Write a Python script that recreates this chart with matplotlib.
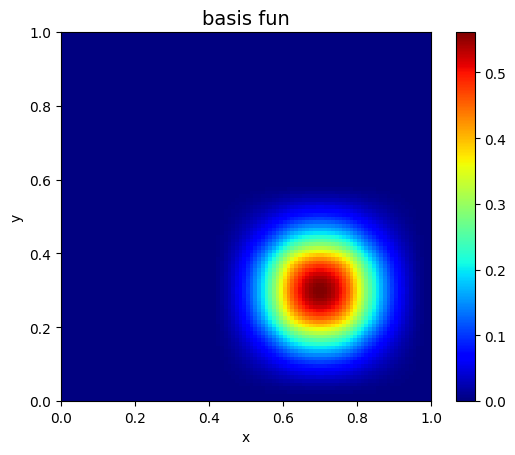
import numpy as np
import matplotlib
matplotlib.use("Agg")
import matplotlib.pyplot as plt

# grid of 100 x 100 cells on the unit square
n_cells = 100
edges = np.linspace(0, 1, n_cells + 1)

# 1D bump profile read across the blob (cell values, rising half; it is symmetric)
bump_half = [0.0003, 0.0028, 0.0078, 0.0153, 0.0253, 0.0378, 0.0528, 0.0703,
             0.0903, 0.1128, 0.1378, 0.1653, 0.1953, 0.2278, 0.2628, 0.3003,
             0.3403, 0.3828, 0.4278, 0.4753, 0.5244, 0.5694, 0.6094, 0.6444,
             0.6744, 0.6994, 0.7194, 0.7344, 0.7444, 0.7494]
bump = bump_half + bump_half[::-1]

# first cell index where the bump starts (x from 0.4, y from 0.0)
x_start = 40
y_start = 0

x_profile = np.zeros(n_cells)
y_profile = np.zeros(n_cells)
x_profile[x_start:x_start + len(bump)] = bump
y_profile[y_start:y_start + len(bump)] = bump

values = np.outer(y_profile, x_profile)

fig = plt.figure(figsize=(5.15, 4.56), dpi=100)
ax = fig.add_axes([61 / 515, 54 / 456, 370 / 515, 369 / 456])
cax = fig.add_axes([456 / 515, 54 / 456, 18.5 / 515, 369 / 456])

mesh = ax.pcolormesh(edges, edges, values, cmap='jet', vmin=0, vmax=values.max())
ax.set_xlim(0, 1)
ax.set_ylim(0, 1)
ax.set_xlabel('x')
ax.set_ylabel('y')
ax.set_title('basis fun', fontsize=14)
fig.colorbar(mesh, cax=cax)

fig.savefig('out.png', dpi=100)
